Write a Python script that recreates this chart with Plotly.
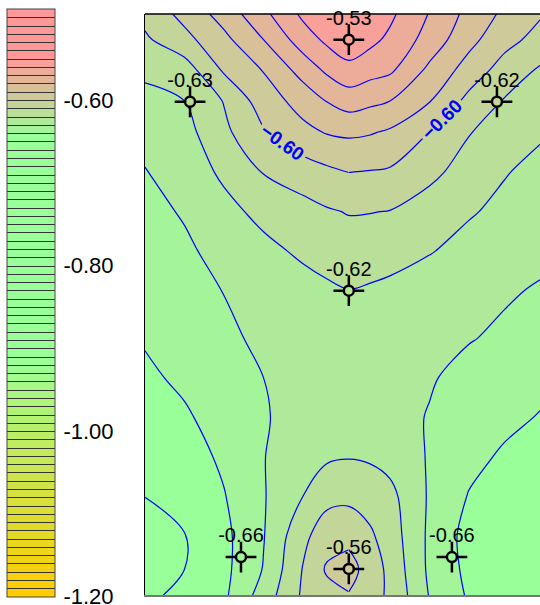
import plotly.graph_objects as go

# ---------------- data ----------------
# grid node positions (plot units; x to the right, y upwards)
x_m = [0, 1, 2, 3, 4, 4.6, 5.16, 5.7, 6.2, 7.2, 8.2, 9.1, 10]
y_m = [0, 0.65, 1.5, 2.5, 3.5, 4.5, 5.5, 6.5, 7.7, 8.7, 9.7, 10.7, 11.7, 12.5, 13.3, 14.05, 14.7]

# pressure-coefficient field, one row per y_m value (bottom to top)
cp_rows = [
    [-0.6520, -0.6477, -0.6418, -0.6255, -0.6085, -0.6035, -0.6005, -0.6065, -0.6115, -0.6305, -0.6412, -0.6445, -0.6460],
    [-0.6540, -0.6500, -0.6425, -0.6295, -0.6095, -0.5988, -0.5965, -0.6040, -0.6128, -0.6318, -0.6425, -0.6455, -0.6468],
    [-0.6535, -0.6503, -0.6425, -0.6305, -0.6125, -0.6045, -0.6025, -0.6085, -0.6148, -0.6318, -0.6435, -0.6458, -0.6470],
    [-0.6499, -0.6465, -0.6405, -0.6307, -0.6200, -0.6130, -0.6126, -0.6142, -0.6172, -0.6311, -0.6405, -0.6435, -0.6455],
    [-0.6472, -0.6443, -0.6383, -0.6303, -0.6245, -0.6215, -0.6205, -0.6213, -0.6235, -0.6308, -0.6373, -0.6413, -0.6435],
    [-0.6444, -0.6412, -0.6361, -0.6306, -0.6272, -0.6260, -0.6255, -0.6260, -0.6268, -0.6305, -0.6345, -0.6377, -0.6405],
    [-0.6417, -0.6382, -0.6341, -0.6300, -0.6275, -0.6268, -0.6265, -0.6270, -0.6275, -0.6292, -0.6327, -0.6352, -0.6375],
    [-0.6392, -0.6355, -0.6315, -0.6285, -0.6260, -0.6250, -0.6245, -0.6250, -0.6255, -0.6270, -0.6295, -0.6315, -0.6345],
    [-0.6367, -0.6335, -0.6298, -0.6265, -0.6232, -0.6215, -0.6202, -0.6210, -0.6218, -0.6245, -0.6272, -0.6290, -0.6308],
    [-0.6346, -0.6315, -0.6271, -0.6223, -0.6185, -0.6165, -0.6147, -0.6158, -0.6170, -0.6195, -0.6228, -0.6256, -0.6279],
    [-0.6326, -0.6292, -0.6226, -0.6176, -0.6135, -0.6110, -0.6095, -0.6097, -0.6103, -0.6148, -0.6192, -0.6220, -0.6251],
    [-0.6305, -0.6249, -0.6184, -0.6095, -0.6050, -0.6021, -0.5999, -0.6005, -0.6012, -0.6074, -0.6143, -0.6195, -0.6223],
    [-0.6265, -0.6235, -0.6123, -0.6010, -0.5927, -0.5895, -0.5884, -0.5893, -0.5915, -0.6002, -0.6095, -0.6152, -0.6190],
    [-0.6227, -0.6200, -0.6095, -0.5949, -0.5862, -0.5797, -0.5754, -0.5778, -0.5800, -0.5895, -0.6029, -0.6107, -0.6140],
    [-0.6180, -0.6148, -0.5984, -0.5894, -0.5758, -0.5680, -0.5630, -0.5660, -0.5680, -0.5820, -0.5940, -0.6040, -0.6110],
    [-0.6116, -0.6030, -0.5926, -0.5800, -0.5650, -0.5580, -0.5530, -0.5575, -0.5620, -0.5740, -0.5870, -0.5967, -0.6034],
    [-0.6070, -0.5970, -0.5860, -0.5725, -0.5580, -0.5545, -0.5510, -0.5545, -0.5580, -0.5705, -0.5830, -0.5920, -0.5990],
]

# measurement taps
pt_x = [5.16, 1.14, 8.91, 5.16, 2.43, 5.16, 7.77]
pt_y = [14.05, 12.48, 12.48, 7.70, 0.96, 0.66, 0.96]
pt_val = [-0.53, -0.63, -0.62, -0.62, -0.66, -0.56, -0.66]

# colour bar ticks and contour levels
cb_ticks = [-1.20, -1.00, -0.80, -0.60]
cb_min, cb_max = -1.2005, -0.49
lvl_start, lvl_end, lvl_step = -1.19, -0.50, 0.01
labelled_level = -0.60

# ---------------- styling ----------------
dom_lo, dom_hi = lvl_start - lvl_step / 2, lvl_end + lvl_step / 2


def pos(v):
    return (v - dom_lo) / (dom_hi - dom_lo)


scale = [
    [0.0, "#FFCC00"],
    [pos(-0.91), "#99FF99"],
    [pos(-0.645), "#99FF99"],
    [pos(-0.548), "#FF9999"],
    [1.0, "#FF9999"],
]

# fill of the tap circles (colour of the band under each tap)
tap_fill = ["#F6A29A", "#B9DB98", "#C3D698", "#B2E698", "#A2F39A", "#CEC898", "#9DF999"]

FONT = "Liberation Sans"
BLUE = "#0000FF"
smooth = 1.0

W, H = 540, 605
ML, MR, MT, MB = 145, 0, 14, 10
PW, PH = W - ML - MR, H - MT - MB

common = dict(x=x_m, y=y_m, z=cp_rows, hoverinfo="skip")

fig = go.Figure()

# base trace (transparent): provides the colour bar with dark band separators
fig.add_trace(go.Contour(
    **common,
    opacity=0,
    autocontour=False,
    contours=dict(start=lvl_start, end=lvl_end, size=lvl_step, coloring="fill", showlines=True),
    line=dict(color="#333333", width=1, smoothing=smooth),
    colorscale=scale, zmin=cb_min, zmax=cb_max,
    showscale=True,
    colorbar=dict(
        x=(7 - ML) / PW, xanchor="left", xpad=0,
        y=(H - MB - 303) / PH, yanchor="middle", ypad=0,
        len=588, lenmode="pixels",
        thickness=48, thicknessmode="pixels",
        outlinewidth=1, outlinecolor="#444444",
        tickmode="array", tickvals=cb_ticks,
        ticktext=[f"{v:.2f}" for v in cb_ticks],
        ticks="outside", ticklen=4, tickcolor="rgba(0,0,0,0)",
        ticklabeloverflow="allow",
        tickfont=dict(family=FONT, size=22, color="black"),
    ),
))

# visible fill
fig.add_trace(go.Contour(
    **common,
    autocontour=False,
    contours=dict(start=lvl_start, end=lvl_end, size=lvl_step, coloring="fill", showlines=False),
    line=dict(width=0, smoothing=smooth),
    colorscale=scale, zmin=cb_min, zmax=cb_max,
    showscale=False,
))

# blue contour lines (all levels but the labelled one)
for s, e in [(lvl_start, labelled_level - lvl_step), (labelled_level + lvl_step, lvl_end)]:
    fig.add_trace(go.Contour(
        **common,
        autocontour=False,
        contours=dict(start=s, end=e, size=lvl_step, coloring="none", showlines=True),
        line=dict(color=BLUE, width=1.2, smoothing=smooth),
        showscale=False,
    ))

# labelled contour, drawn as a left and a right half (one label on each)
split = x_m.index(5.16)
for cols in (slice(0, split + 1), slice(split, len(x_m))):
    fig.add_trace(go.Contour(
        x=x_m[cols], y=y_m, z=[row[cols] for row in cp_rows], hoverinfo="skip",
        autocontour=False,
        contours=dict(start=labelled_level, end=labelled_level, size=lvl_step, coloring="none",
                      showlines=True, showlabels=True, labelformat=".2f",
                      labelfont=dict(family=FONT, size=19, color=BLUE, weight="bold")),
        line=dict(color=BLUE, width=1.2, smoothing=smooth),
        showscale=False,
    ))

# tap symbols: cross hairs + circle, value labels
fig.add_trace(go.Scatter(
    x=pt_x, y=pt_y, mode="markers",
    marker=dict(symbol="cross-thin-open", size=22, color="black",
                line=dict(width=2.5, color="black")),
    cliponaxis=False, hoverinfo="skip", showlegend=False,
))
fig.add_trace(go.Scatter(
    x=pt_x, y=pt_y, mode="markers",
    marker=dict(symbol="circle", size=10, color=tap_fill, line=dict(width=2.5, color="black")),
    cliponaxis=False, hoverinfo="skip", showlegend=False,
))
fig.add_trace(go.Scatter(
    x=pt_x, y=pt_y, mode="markers+text",
    marker=dict(size=14, opacity=0),
    text=[f"{v:.2f}" for v in pt_val], textposition="top center",
    textfont=dict(family=FONT, size=20, color="black"),
    cliponaxis=False, hoverinfo="skip", showlegend=False,
))

fig.update_layout(
    width=W, height=H,
    margin=dict(l=ML, r=MR, t=MT, b=MB, autoexpand=False),
    paper_bgcolor="white", plot_bgcolor="white",
    showlegend=False,
    xaxis=dict(range=[x_m[0], x_m[-1]], showgrid=False, zeroline=False, showticklabels=False,
               ticks="", showline=True, linecolor="#777777", linewidth=1.5),
    yaxis=dict(range=[y_m[0], y_m[-1]], showgrid=False, zeroline=False, showticklabels=False,
               ticks="", showline=True, linecolor="black", linewidth=1.5),
    shapes=[dict(type="line", xref="paper", yref="paper", x0=0, x1=1, y0=1, y1=1,
                 line=dict(color="black", width=1.5))],
)

fig.write_html(
    "out.html",
    config={"displayModeBar": False, "staticPlot": True},
    post_script="document.body.style.margin='0';document.body.style.overflow='hidden';",
)
